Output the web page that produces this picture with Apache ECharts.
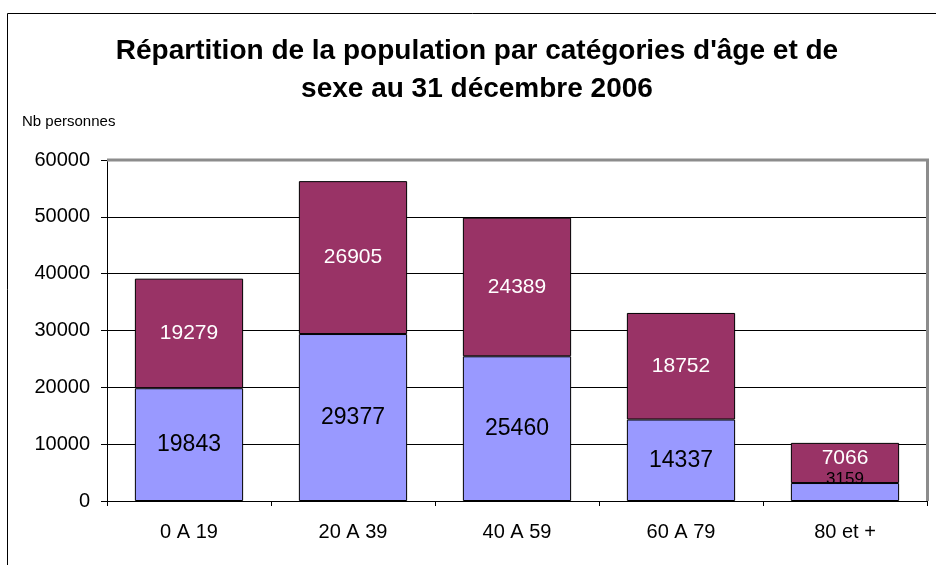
<!DOCTYPE html>
<html>
<head>
<meta charset="utf-8">
<script src="https://cdn.jsdelivr.net/npm/echarts@6/dist/echarts.min.js"></script>
<style>
  html, body { margin: 0; padding: 0; background: #fff; }
  #chart { width: 936px; height: 565px; }
</style>
</head>
<body>
<div id="chart"></div>
<script>
// categories d'age
var categories = ['0 A 19', '20 A 39', '40 A 59', '60 A 79', '80 et +']
// serie du bas (bleu) et serie du haut (bordeaux)
var serieBas = [19843, 29377, 25460, 14337, 3159]
var serieHaut = [19279, 26905, 24389, 18752, 7066]
var yTicks = [0, 10000, 20000, 30000, 40000, 50000, 60000]

var chart = echarts.init(document.getElementById('chart'))

var font = 'Liberation Sans, Arial, sans-serif'
// lignes de grille noires, la derniere (haut du cadre) en gris
var gridColors = yTicks.map(function (t, i) {
  return i === yTicks.length - 1 ? '#8c8c8c' : '#000'
})

chart.setOption({
  animation: false,
  textStyle: { fontFamily: font },
  title: {
    text: 'Répartition de la population par catégories d\'âge et de\nsexe au 31 décembre 2006',
    left: 472,
    top: 27,
    textAlign: 'center',
    textStyle: {
      fontSize: 28,
      fontWeight: 'bold',
      color: '#000',
      lineHeight: 38,
      fontFamily: font
    }
  },
  graphic: [
    {
      type: 'rect',
      shape: { x: 7.5, y: 13.5, width: 940, height: 570 },
      style: { fill: null, stroke: '#000', lineWidth: 1 },
      silent: true,
      z: -1
    },
    {
      type: 'text',
      left: 22,
      top: 114,
      style: { text: 'Nb personnes', fontSize: 15, fill: '#000', fontFamily: font }
    },
    {
      // bord haut et droit du cadre du graphique
      type: 'polyline',
      shape: { points: [[107, 160], [927.5, 160], [927.5, 501]] },
      style: { fill: null, stroke: '#8c8c8c', lineWidth: 3 },
      silent: true,
      z: 100
    }
  ],
  grid: { left: 107, right: 9, top: 160, bottom: 64 },
  xAxis: {
    type: 'category',
    data: categories,
    axisLine: { lineStyle: { color: '#000', width: 1 } },
    axisTick: { show: true, length: 5, lineStyle: { color: '#000' } },
    axisLabel: { color: '#000', fontSize: 20, margin: 21, fontFamily: font }
  },
  yAxis: {
    type: 'value',
    min: yTicks[0],
    max: yTicks[yTicks.length - 1],
    interval: 10000,
    axisLine: { show: true, lineStyle: { color: '#000', width: 1 } },
    axisTick: { show: true, length: 6, lineStyle: { color: '#000' } },
    axisLabel: {
      color: '#000',
      fontSize: 20,
      margin: 17,
      fontFamily: font,
      formatter: function (v) { return String(v) }
    },
    splitLine: { show: true, lineStyle: { color: gridColors, width: 1 } }
  },
  series: [
    {
      name: 'bas',
      type: 'bar',
      stack: 'total',
      barCategoryGap: '34%',
      data: serieBas.map(function (v, i) {
        if (i === serieBas.length - 1) {
          return { value: v, label: { fontSize: 17, offset: [0, -13] } }
        }
        return v
      }),
      itemStyle: { color: '#9999ff', borderColor: '#000', borderWidth: 1 },
      label: {
        show: true,
        position: 'inside',
        color: '#000',
        fontSize: 23,
        fontFamily: font
      }
    },
    {
      name: 'haut',
      type: 'bar',
      stack: 'total',
      data: serieHaut.map(function (v, i) {
        if (i === serieHaut.length - 1) {
          return { value: v, label: { offset: [0, -5] } }
        }
        return v
      }),
      itemStyle: { color: '#993366', borderColor: '#000', borderWidth: 1 },
      label: {
        show: true,
        position: 'inside',
        color: '#fff',
        fontSize: 21,
        fontFamily: font
      }
    }
  ]
})
</script>
</body>
</html>
